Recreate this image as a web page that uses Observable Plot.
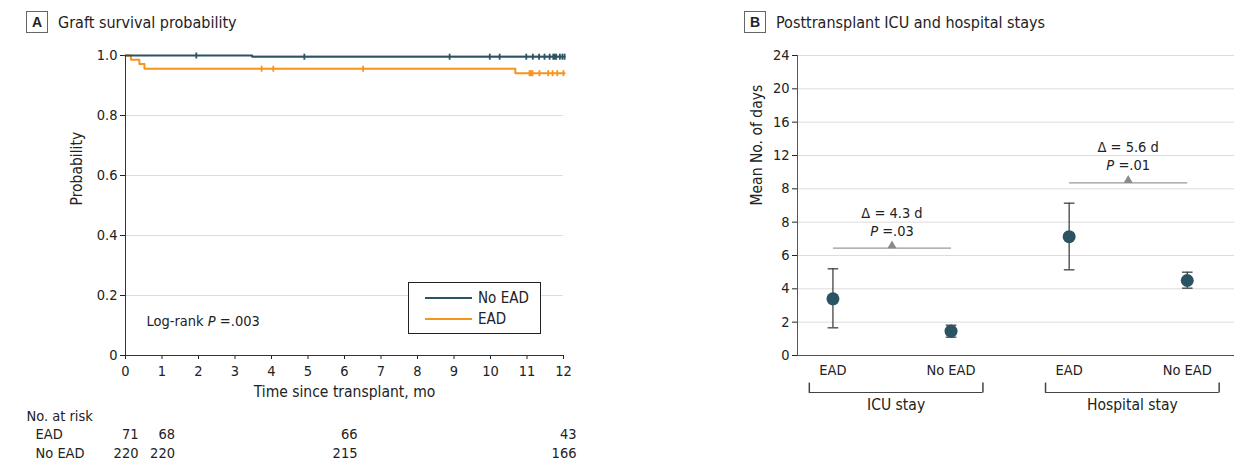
<!DOCTYPE html>
<html>
<head>
<meta charset="utf-8">
<script src="https://cdn.jsdelivr.net/npm/d3@7"></script>
<script src="https://cdn.jsdelivr.net/npm/@observablehq/plot@0.6"></script>
<style>
  html, body { margin: 0; padding: 0; background: #fff; }
  #page { position: relative; width: 1248px; height: 468px; overflow: hidden;
          font-family: "Liberation Sans Narrow", "DejaVu Sans Condensed", "Roboto Condensed", "Liberation Sans", sans-serif; color: #222; }
  .ptitle { position: absolute; top: 11px; height: 22px; display: flex; align-items: center; font-size: 16px; }
  .ptitle .box { width: 20px; height: 20px; border: 1px solid #666; display: flex; align-items: center; justify-content: center;
                 font-weight: bold; font-size: 14px; margin-right: 10px; font-family: "Liberation Sans", sans-serif; }
  .panel { position: absolute; top: 40px; }
  #legendA { position: absolute; left: 408px; top: 282px; width: 131px; height: 50px; border: 1px solid #222; background: #fff; font-size: 15px; }
  #legendA .row { position: absolute; left: 16px; display: flex; align-items: center; }
  #legendA .swatch { width: 47px; height: 0; border-top: 2px solid; margin-right: 6px; }
</style>
</head>
<body>
<div id="page">
  <div class="ptitle" style="left:26px"><div class="box">A</div><span>Graft survival probability</span></div>
  <div class="ptitle" style="left:744px"><div class="box">B</div><span>Posttransplant ICU and hospital stays</span></div>
  <div id="panelA" class="panel" style="left:0px"></div>
  <div id="panelB" class="panel" style="left:700px"></div>
  <div id="legendA"></div>
</div>
<script>
// ---------------- Panel A data ----------------
const seriesNames = ["No EAD", "EAD"];
const seriesColors = ["#2d5262", "#f7941d"];
const stepTimesNoEAD = [0, 3.47, 12.03];
const survNoEAD = [1, 0.996, 0.996];
const stepTimesEAD = [0, 0.15, 0.38, 0.52, 10.68, 12.03];
const survEAD = [1, 0.986, 0.972, 0.956, 0.941, 0.941];
const censorNoEAD = [1.94, 4.9, 8.88, 9.98, 10.25, 10.98, 11.16, 11.33, 11.48, 11.62, 11.72, 11.76, 11.8, 11.9, 11.97, 12.03];
const censorEAD = [3.73, 4.05, 6.51, 11.07, 11.11, 11.15, 11.34, 11.58, 11.7, 11.83, 12.0];
const xTicksA = [0,1,2,3,4,5,6,7,8,9,10,11,12];
const yTicksA = [0, 0.2, 0.4, 0.6, 0.8, 1.0];
const yTickLabelsA = ["0", "0.2", "0.4", "0.6", "0.8", "1.0"];
const riskTimes = [0, 1, 6, 12];
const riskEAD = [71, 68, 66, 43];
const riskNoEAD = [220, 220, 215, 166];
const logRankText = "Log-rank P =.003";

// ---------------- Panel B data ----------------
const stayGroups = ["ICU stay", "ICU stay", "Hospital stay", "Hospital stay"];
const stayArms = ["EAD", "No EAD", "EAD", "No EAD"];
const meanDays = [3.4, 1.46, 7.13, 4.5];
const lowerDays = [1.66, 1.1, 5.14, 4.04];
const upperDays = [5.2, 1.82, 9.14, 5.0];
const compGroups = ["ICU stay", "Hospital stay"];
const compDelta = ["Δ = 4.3 d", "Δ = 5.6 d"];
const compP = ["P =.03", "P =.01"];
const compLevel = [6.44, 10.36];
const yTicksB = [0, 2, 4, 6, 8, 10, 12, 14, 16, 18];
const yTickLabelsB = ["0", "2", "4", "6", "8", "8", "12", "16", "20", "24"];

// ---------------- helpers ----------------
const FONT = getComputedStyle(document.getElementById("page")).fontFamily;
function survAt(times, surv, t) {
  let v = surv[0];
  for (let i = 0; i < times.length; i++) if (times[i] <= t) v = surv[i];
  return v;
}
const vtick = { draw(ctx, size) { const h = Math.sqrt(size); ctx.moveTo(0, -h / 2); ctx.lineTo(0, h / 2); } };
const htick = { draw(ctx, size) { const w = Math.sqrt(size); ctx.moveTo(-w / 2, 0); ctx.lineTo(w / 2, 0); } };
const upTick = { draw(ctx, size) { const h = Math.sqrt(size); ctx.moveTo(0, 0); ctx.lineTo(0, -h); } };
function italicP(svg) {
  svg.querySelectorAll("text").forEach(t => {
    if (t.querySelector("tspan")) return;
    const s = t.textContent;
    const i = s.indexOf("P =");
    if (i < 0) return;
    t.textContent = "";
    if (i > 0) t.appendChild(document.createTextNode(s.slice(0, i)));
    const sp = document.createElementNS("http://www.w3.org/2000/svg", "tspan");
    sp.setAttribute("font-style", "italic");
    sp.textContent = "P";
    t.appendChild(sp);
    t.appendChild(document.createTextNode(s.slice(i + 1)));
  });
}

// ---------------- Panel A ----------------
const lineRows = [];
stepTimesNoEAD.forEach((t, i) => lineRows.push({ series: "No EAD", time: t, surv: survNoEAD[i] }));
stepTimesEAD.forEach((t, i) => lineRows.push({ series: "EAD", time: t, surv: survEAD[i] }));
const censorRows = [];
censorNoEAD.forEach(t => censorRows.push({ series: "No EAD", time: t, surv: survAt(stepTimesNoEAD, survNoEAD, t) }));
censorEAD.forEach(t => censorRows.push({ series: "EAD", time: t, surv: survAt(stepTimesEAD, survEAD, t) }));
const riskRows = riskTimes.map((t, i) => ({ time: t, ead: riskEAD[i], noead: riskNoEAD[i] }));

const plotA = Plot.plot({
  width: 620, height: 428,
  marginLeft: 125, marginRight: 57, marginTop: 15, marginBottom: 113,
  style: { fontFamily: FONT, fontSize: "14px", color: "#222", background: "transparent" },
  x: { domain: [0, 12] },
  y: { domain: [0, 1] },
  color: { domain: seriesNames, range: seriesColors },
  marks: [
    Plot.gridY(yTicksA.filter(d => d > 0), { stroke: "#dcdcdc", strokeOpacity: 1 }),
    Plot.axisY({ ticks: yTicksA, tickFormat: (d, i) => yTickLabelsA[i], tickSize: 5, tickPadding: 3, label: null, fontSize: 14.5 }),
    Plot.axisX({ ticks: xTicksA, tickSize: 4, tickPadding: 6, label: null, fontSize: 14.5 }),
    Plot.line(lineRows.filter(d => d.series === "EAD"), { x: "time", y: "surv", stroke: "series", curve: "step-after", strokeWidth: 2 }),
    Plot.line(lineRows.filter(d => d.series === "No EAD"), { x: "time", y: "surv", stroke: "series", curve: "step-after", strokeWidth: 2 }),
    Plot.dot(censorRows, { x: "time", y: "surv", stroke: "series", symbol: vtick, r: 3.4, strokeWidth: 1.8 }),
    Plot.ruleX([0], { stroke: "#333" }),
    Plot.ruleY([0], { stroke: "#333" }),
    Plot.text([logRankText], { frameAnchor: "bottom-left", dx: 21, dy: -30, textAnchor: "start", fontSize: 14.5 }),
    Plot.text(["Probability"], { frameAnchor: "left", dx: -48, rotate: -90, fontSize: 15.5 }),
    Plot.text(["Time since transplant, mo"], { frameAnchor: "bottom", dy: 41, fontSize: 15.5 }),
    Plot.text(["No. at risk"], { frameAnchor: "bottom-left", dx: -99, dy: 65, textAnchor: "start", fontSize: 14.5 }),
    Plot.text(["EAD"], { frameAnchor: "bottom-left", dx: -90, dy: 83, textAnchor: "start", fontSize: 14.5 }),
    Plot.text(["No EAD"], { frameAnchor: "bottom-left", dx: -90, dy: 102, textAnchor: "start", fontSize: 14.5 }),
    Plot.text(riskRows, { x: "time", text: "ead", frameAnchor: "bottom", dx: 13, dy: 83, textAnchor: "end", fontSize: 14.5 }),
    Plot.text(riskRows, { x: "time", text: "noead", frameAnchor: "bottom", dx: 13, dy: 102, textAnchor: "end", fontSize: 14.5 })
  ]
});
italicP(plotA);
document.getElementById("panelA").appendChild(plotA);

// legend A
const legend = document.getElementById("legendA");
seriesNames.forEach((name, i) => {
  const row = document.createElement("div");
  row.className = "row";
  row.style.top = (i === 0 ? 6 : 27) + "px";
  row.innerHTML = `<span class="swatch" style="border-color:${seriesColors[i]}"></span><span>${name}</span>`;
  legend.appendChild(row);
});

// ---------------- Panel B ----------------
const stayRows = stayArms.map((a, i) => ({ pos: i + 1, group: stayGroups[i], arm: a, mean: meanDays[i], lo: lowerDays[i], hi: upperDays[i] }));
const compRows = compGroups.map((g, i) => {
  const ps = stayRows.filter(d => d.group === g).map(d => d.pos);
  return { x1: d3.min(ps), x2: d3.max(ps), mid: d3.mean(ps), level: compLevel[i], delta: compDelta[i], p: compP[i] };
});
const groupRows = Array.from(new Set(stayGroups)).map(g => {
  const ps = stayRows.filter(d => d.group === g).map(d => d.pos);
  const a = d3.min(ps) - 0.2, b = d3.max(ps) + 0.27;
  return { group: g, x1: a, x2: b, mid: (a + b) / 2 };
});
const groupEnds = groupRows.flatMap(d => [{ x: d.x1 }, { x: d.x2 }]);

const plotB = Plot.plot({
  width: 548, height: 428,
  marginLeft: 97, marginRight: 14, marginTop: 15, marginBottom: 113,
  style: { fontFamily: FONT, fontSize: "14px", color: "#222", background: "transparent" },
  x: { domain: [0.7, 4.4] },
  y: { domain: [0, 18] },
  marks: [
    Plot.gridY(yTicksB.filter(d => d > 0), { stroke: "#dcdcdc", strokeOpacity: 1 }),
    Plot.axisY({ ticks: yTicksB, tickFormat: (d, i) => yTickLabelsB[i], tickSize: 5, tickPadding: 3, label: null, fontSize: 14.5 }),
    Plot.axisX({ ticks: [], label: null }),
    Plot.ruleX([0.7], { stroke: "#555" }),
    Plot.ruleY([0], { stroke: "#555" }),
    Plot.ruleX(stayRows, { x: "pos", y1: "lo", y2: "hi", stroke: "#333", strokeWidth: 1.2 }),
    Plot.dot(stayRows, { x: "pos", y: "lo", symbol: htick, r: 6, stroke: "#333", strokeWidth: 1.2 }),
    Plot.dot(stayRows, { x: "pos", y: "hi", symbol: htick, r: 6, stroke: "#333", strokeWidth: 1.2 }),
    Plot.dot(stayRows, { x: "pos", y: "mean", r: 6.5, fill: "#2a5363", stroke: "none" }),
    Plot.link(compRows, { x1: "x1", x2: "x2", y1: "level", y2: "level", stroke: "#999", strokeWidth: 1.2 }),
    Plot.dot(compRows, { x: "mid", y: "level", symbol: "triangle", r: 3.4, fill: "#8a8a8a", dy: -2.5 }),
    Plot.text(compRows, { x: "mid", y: "level", text: "delta", dy: -35, fontSize: 14.5 }),
    Plot.text(compRows, { x: "mid", y: "level", text: "p", dy: -17, fontSize: 14.5 }),
    Plot.text(stayRows, { x: "pos", text: "arm", frameAnchor: "bottom", dy: 19, fontSize: 14.5 }),
    Plot.ruleY(groupRows, { x1: "x1", x2: "x2", y: () => 0, dy: 37, stroke: "#444" }),
    Plot.dot(groupEnds, { x: "x", y: () => 0, symbol: upTick, r: 5.6, dy: 37, stroke: "#444" }),
    Plot.text(groupRows, { x: "mid", text: "group", frameAnchor: "bottom", dy: 54, fontSize: 15.5 }),
    Plot.text(["Mean No. of days"], { frameAnchor: "left", dx: -40, rotate: -90, fontSize: 15.5 })
  ]
});
italicP(plotB);
document.getElementById("panelB").appendChild(plotB);
</script>
</body>
</html>
